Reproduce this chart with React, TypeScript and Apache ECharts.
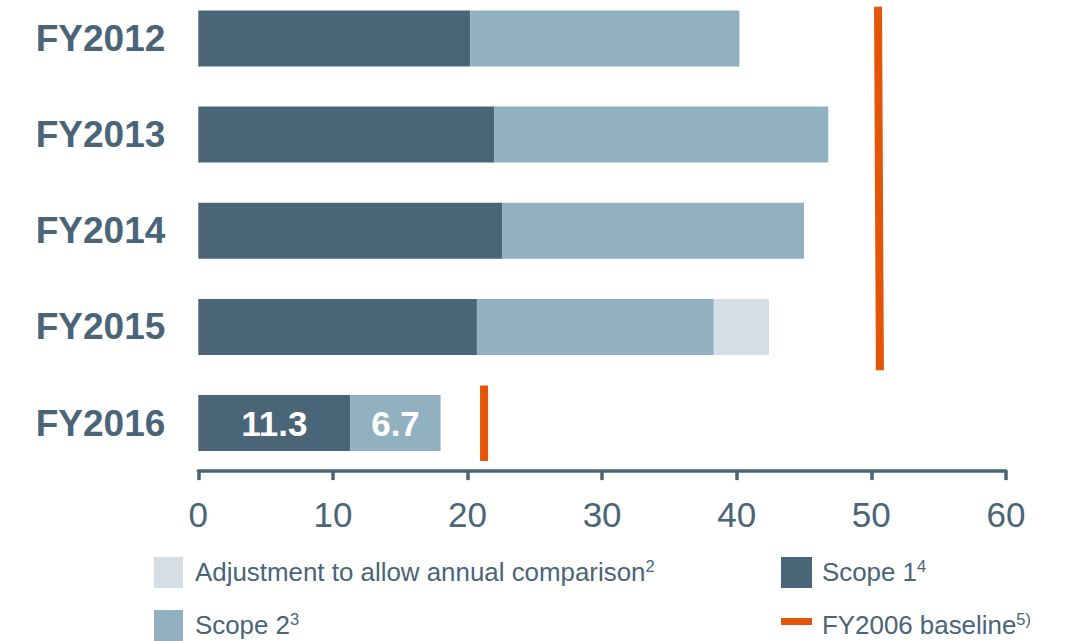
import React, { useEffect, useRef } from "react";
import * as echarts from "echarts";

const categories = ["FY2012", "FY2013", "FY2014", "FY2015", "FY2016"];
const scope1 = [20.2, 22.0, 22.6, 20.7, 11.3];
const scope2 = [20.0, 24.8, 22.4, 17.6, 6.7];
const adjustment = [0, 0, 0, 4.1, 0];
const xTicks = { min: 0, max: 60, interval: 10 };
// baseline segments: [x value, y position in category-band units]
const baselineOld = [
  [50.5, 0.17],
  [50.64, 3.95],
];
const baselineNew = [
  [21.23, 4.11],
  [21.23, 4.895],
];
const legendItems = {
  adjustment: ["Adjustment to allow annual comparison", "2"],
  scope2: ["Scope 2", "3"],
  scope1: ["Scope 1", "4"],
  baseline: ["FY2006 baseline", "5)"],
};

const C_S1 = "#4a6578";
const C_S2 = "#91b1c1";
const C_ADJ = "#d5dee5";
const C_OR = "#e45508";
const C_TXT = "#4a6478";
const FONT = "Liberation Sans, Arial, sans-serif";

export default function App() {
  const ref = useRef<HTMLDivElement>(null);
  useEffect(() => {
    if (!ref.current) return;
    const chart = echarts.init(ref.current, null, { renderer: "svg" });
    const labelFor = (i: number) =>
      i === 4
        ? { show: true, color: "#ffffff", fontSize: 35, fontWeight: "bold", fontFamily: FONT }
        : { show: false };
    const legendText = (x: number, y: number, pair: string[]) => ({
      type: "text",
      x,
      y,
      style: {
        text: `{a|${pair[0]}}{s|${pair[1]}}`,
        fill: C_TXT,
        font: `25.9px ${FONT}`,
        rich: {
          a: { fontSize: 25.9, fontFamily: FONT, fill: C_TXT, color: C_TXT, lineHeight: 30 },
          s: { fontSize: 16.5, fontFamily: FONT, fill: C_TXT, color: C_TXT, verticalAlign: "top", lineHeight: 18 },
        },
      },
    });
    chart.setOption({
      animation: false,
      textStyle: { fontFamily: FONT },
      grid: {
        left: 198.3,
        width: 807.6,
        top: -9.6,
        height: 480.7,
        containLabel: false,
        outerBoundsMode: "none",
      },
      xAxis: {
        type: "value",
        position: "bottom",
        min: xTicks.min,
        max: xTicks.max,
        interval: xTicks.interval,
        splitLine: { show: false },
        axisLine: { show: true, onZero: false, lineStyle: { color: C_S1, width: 3.5 } },
        axisTick: { show: true, length: 9, lineStyle: { color: C_S1, width: 3.5 } },
        axisLabel: { color: C_TXT, fontSize: 35, margin: 25.5, fontFamily: FONT },
      },
      yAxis: [
        {
          type: "category",
          data: categories,
          inverse: true,
          axisLine: { show: false },
          axisTick: { show: false },
          axisLabel: { color: C_TXT, fontSize: 37, fontWeight: "bold", margin: 33, fontFamily: FONT },
        },
        {
          type: "value",
          min: 0,
          max: 5,
          inverse: true,
          show: false,
        },
      ],
      series: [
        {
          name: "Scope 1",
          type: "bar",
          stack: "total",
          barWidth: 56,
          itemStyle: { color: C_S1 },
          data: scope1.map((v, i) => ({ value: v, label: labelFor(i) })),
        },
        {
          name: "Scope 2",
          type: "bar",
          stack: "total",
          barWidth: 56,
          itemStyle: { color: C_S2 },
          data: scope2.map((v, i) => ({ value: v, label: labelFor(i) })),
        },
        {
          name: "Adjustment to allow annual comparison",
          type: "bar",
          stack: "total",
          barWidth: 56,
          itemStyle: { color: C_ADJ },
          data: adjustment,
        },
        {
          name: "FY2006 baseline",
          type: "line",
          yAxisIndex: 1,
          symbol: "none",
          lineStyle: { color: C_OR, width: 8, cap: "butt" },
          data: baselineOld,
        },
        {
          name: "FY2006 baseline",
          type: "line",
          yAxisIndex: 1,
          symbol: "none",
          lineStyle: { color: C_OR, width: 8, cap: "butt" },
          data: baselineNew,
        },
      ],
      graphic: [
        { type: "rect", shape: { x: 154, y: 557, width: 29, height: 31 }, style: { fill: C_ADJ } },
        legendText(195, 557, legendItems.adjustment),
        { type: "rect", shape: { x: 154, y: 610, width: 29, height: 31 }, style: { fill: C_S2 } },
        legendText(195, 610, legendItems.scope2),
        { type: "rect", shape: { x: 781, y: 557, width: 31, height: 31 }, style: { fill: C_S1 } },
        legendText(822, 557, legendItems.scope1),
        { type: "rect", shape: { x: 781, y: 618, width: 31, height: 7 }, style: { fill: C_OR } },
        legendText(822, 610, legendItems.baseline),
      ],
    });
    return () => chart.dispose();
  }, []);
  return (
    <div
      ref={ref}
      style={{ position: "fixed", left: 0, top: 0, width: 1084, height: 641, background: "#ffffff" }}
    />
  );
}
